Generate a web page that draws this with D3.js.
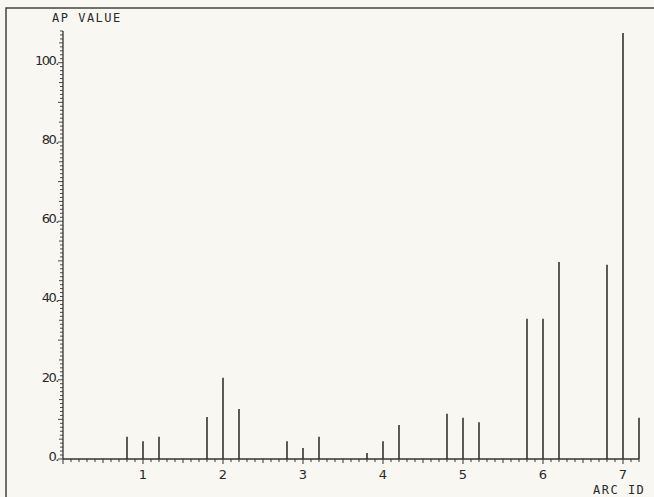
<!DOCTYPE html>
<html>
<head>
<meta charset="utf-8">
<script src="https://cdn.jsdelivr.net/npm/d3@7"></script>
<style>
  body { margin: 0; background: #f8f7f2; }
  svg { display: block; }
  .axis path, .axis line { stroke: #333; stroke-width: 1.3; }
  .axis text { font-family: "DejaVu Sans", sans-serif; font-size: 13px; fill: #2a2a2a; }
  .lbl { font-family: "DejaVu Sans Mono", monospace; font-size: 12px; fill: #2a2a2a; letter-spacing: 1.5px; }
</style>
</head>
<body>
<script>
// arc ids and their AP values
const arcIds = [0.8, 1.0, 1.2, 1.8, 2.0, 2.2, 2.8, 3.0, 3.2, 3.8, 4.0, 4.2,
  4.8, 5.0, 5.2, 5.8, 6.0, 6.2, 6.8, 7.0, 7.2];
const apValues = [5.6, 4.5, 5.6, 10.6, 20.5, 12.6, 4.5, 2.8, 5.6, 1.5, 4.5, 8.6,
  11.4, 10.4, 9.3, 35.4, 35.4, 49.7, 49.0, 107.5, 10.4];
const yLabels = [0, 20, 40, 60, 80, 100];
const xLabels = [1, 2, 3, 4, 5, 6, 7];

const width = 654, height = 497;

const svg = d3.select("body").append("svg")
  .attr("width", width)
  .attr("height", height);

// frame
svg.append("rect")
  .attr("x", 6).attr("y", 8)
  .attr("width", 660).attr("height", 500)
  .attr("fill", "none")
  .attr("stroke", "#444")
  .attr("stroke-width", 1.5);

const x = d3.scaleLinear().domain([0, 7.2]).range([63, 639]);
const y = d3.scaleLinear().domain([0, 108]).range([459, 31]);

// y axis: minor ticks every 1, medium every 5, longer every 10
const yAxis = svg.append("g").attr("class", "axis");
yAxis.append("line")
  .attr("x1", x(0)).attr("x2", x(0))
  .attr("y1", y(0)).attr("y2", y(108));
yAxis.selectAll("line.t")
  .data(d3.range(0, 109, 1))
  .join("line")
  .attr("class", "t")
  .attr("x1", x(0))
  .attr("x2", d => x(0) - (d % 10 === 0 ? 5 : d % 5 === 0 ? 4 : 3))
  .attr("y1", d => y(d)).attr("y2", d => y(d))
  .style("stroke-width", 0.9);
yAxis.selectAll("text")
  .data(yLabels)
  .join("text")
  .attr("x", x(0) - 5)
  .attr("y", d => y(d) + 2)
  .attr("text-anchor", "end")
  .style("letter-spacing", "-1.5px")
  .text(d => d + ".");

// x axis: minor ticks every 0.1, medium at 0.5, labels at integers
const xAxis = svg.append("g").attr("class", "axis");
xAxis.append("line")
  .attr("x1", x(0)).attr("x2", x(7.2))
  .attr("y1", y(0)).attr("y2", y(0));
xAxis.selectAll("line.t")
  .data(d3.range(0, 73).map(i => i / 10))
  .join("line")
  .attr("class", "t")
  .attr("x1", d => x(d)).attr("x2", d => x(d))
  .attr("y1", y(0))
  .attr("y2", d => {
    const k = Math.round(d * 10);
    return y(0) + (k % 10 === 0 ? 5 : k % 5 === 0 ? 4 : 3);
  })
  .style("stroke-width", 1);
xAxis.selectAll("text")
  .data(xLabels)
  .join("text")
  .attr("x", d => x(d))
  .attr("y", y(0) + 20)
  .attr("text-anchor", "middle")
  .text(d => d);

// spikes
svg.append("g")
  .selectAll("line")
  .data(arcIds.map((id, i) => ({ id, v: apValues[i] })))
  .join("line")
  .attr("x1", d => x(d.id)).attr("x2", d => x(d.id))
  .attr("y1", y(0)).attr("y2", d => y(d.v))
  .attr("stroke", "#333")
  .attr("stroke-width", 1.6);

// axis titles
svg.append("text")
  .attr("class", "lbl")
  .attr("x", 52).attr("y", 22)
  .text("AP VALUE");
svg.append("text")
  .attr("class", "lbl")
  .attr("x", 593).attr("y", 494)
  .text("ARC ID");
</script>
</body>
</html>
